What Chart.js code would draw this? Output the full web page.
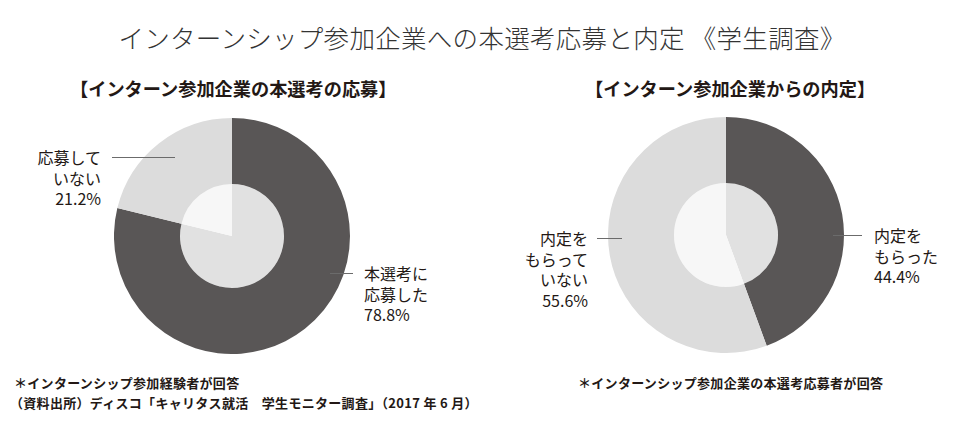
<!DOCTYPE html>
<html lang="ja">
<head>
<meta charset="utf-8">
<script src="https://cdn.jsdelivr.net/npm/chart.js@4.4.1/dist/chart.umd.min.js"></script>
<style>
  html, body { margin: 0; padding: 0; background: #ffffff; }
  body { width: 960px; height: 429px; position: relative; overflow: hidden;
         font-family: "Noto Sans CJK JP", "Noto Sans", sans-serif; color: #231815; }
  .abs { position: absolute; white-space: nowrap; }
  #title { left: 0; width: 964px; top: 21px; text-align: center; font-size: 25.5px; line-height: 32px;
           font-weight: 300; color: #333; letter-spacing: 0.3px; }
  .sub { font-size: 18.2px; font-weight: 700; line-height: 24px; top: 76px; }
  .lbl { font-size: 16px; line-height: 20.5px; white-space: pre; }
  .note { font-size: 13px; font-weight: 700; line-height: 20px; letter-spacing: 0.3px; }
  .lead { position: absolute; height: 0; border-top: 1px solid #6b6b6b; }
  canvas { position: absolute; }
</style>
</head>
<body>
<div id="title" class="abs">インターンシップ参加企業への本選考応募と内定 《学生調査》</div>
<div class="abs sub" style="left:70px;">【インターン参加企業の本選考の応募】</div>
<div class="abs sub" style="left:585px;">【インターン参加企業からの内定】</div>

<div style="position:absolute;left:114px;top:118px;width:236px;height:236px;"><canvas id="c1"></canvas></div>
<div style="position:absolute;left:608px;top:117px;width:236px;height:236px;"><canvas id="c2"></canvas></div>

<div id="l1a" class="abs lbl" style="left:364px;top:263px;"></div>
<div id="l1b" class="abs lbl" style="left:0;width:101px;top:147px;text-align:right;"></div>
<div id="l2a" class="abs lbl" style="left:874px;top:225px;"></div>
<div id="l2b" class="abs lbl" style="left:400px;width:188px;top:228px;text-align:right;"></div>

<div class="lead" style="left:112px;width:63px;top:157px;"></div>
<div class="lead" style="left:330px;width:23px;top:273px;"></div>
<div class="lead" style="left:597px;width:25px;top:238px;"></div>
<div class="lead" style="left:833px;width:29px;top:235px;"></div>

<div class="abs note" style="left:14px;top:373px;">＊インターンシップ参加経験者が回答</div>
<div class="abs note" style="left:10px;top:393px;">（資料出所）ディスコ「キャリタス就活　学生モニター調査」（2017 年 6 月）</div>
<div class="abs note" style="left:578px;top:373px;">＊インターンシップ参加企業の本選考応募者が回答</div>

<script>
// ---- data ----
const applyCategories = ['本選考に\n応募した', '応募して\nいない'];
const applyValues = [78.8, 21.2];
const offerCategories = ['内定を\nもらった', '内定を\nもらって\nいない'];
const offerValues = [44.4, 55.6];

// ---- styles ----
const outerColors = ['#595656', '#dcdcdc'];
const innerColors = ['#e1e1e1', '#f7f7f7'];

function makeDoughnut(id, labels, values) {
  return new Chart(document.getElementById(id), {
    type: 'doughnut',
    data: {
      labels: labels,
      datasets: [
        { data: values, backgroundColor: outerColors, borderWidth: 0, weight: 66, hoverOffset: 0 },
        { data: values, backgroundColor: innerColors, borderWidth: 0, weight: 52, hoverOffset: 0 }
      ]
    },
    options: {
      responsive: true,
      maintainAspectRatio: false,
      animation: false,
      events: [],
      cutout: 0,
      layout: { padding: 0 },
      plugins: { legend: { display: false }, tooltip: { enabled: false }, title: { display: false } }
    }
  });
}

makeDoughnut('c1', applyCategories, applyValues);
makeDoughnut('c2', offerCategories, offerValues);

function setLabel(id, cat, val) {
  document.getElementById(id).textContent = cat + '\n' + val.toFixed(1) + '%';
}
setLabel('l1a', applyCategories[0], applyValues[0]);
setLabel('l1b', applyCategories[1], applyValues[1]);
setLabel('l2a', offerCategories[0], offerValues[0]);
setLabel('l2b', offerCategories[1], offerValues[1]);
</script>
</body>
</html>
